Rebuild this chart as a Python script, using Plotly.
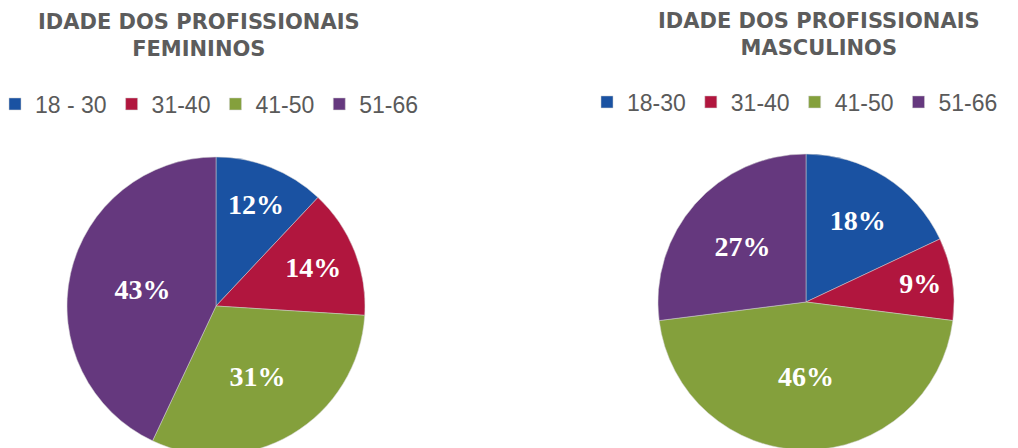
import plotly.graph_objects as go

# ---- data ----
labels_fem = ["18 - 30", "31-40", "41-50", "51-66"]
values_fem = [12, 14, 31, 43]
labels_masc = ["18-30", "31-40", "41-50", "51-66"]
values_masc = [18, 9, 46, 27]
title_fem = "IDADE DOS PROFISSIONAIS<br>FEMININOS"
title_masc = "IDADE DOS PROFISSIONAIS<br>MASCULINOS"

colors = ["#1a52a2", "#b1163e", "#84a03c", "#65387e"]

W, H = 1018, 456

# pie legend entries are keyed by label; a zero-width space keeps the second
# chart's entries distinct so each chart gets its own legend
masc_keys = [lab + "\u200b" for lab in labels_masc]

fig = go.Figure()

common = dict(
    sort=False,
    direction="clockwise",
    rotation=0,
    texttemplate="%{percent:.0%}",
    textposition="inside",
    insidetextorientation="horizontal",
    textfont=dict(family="Liberation Serif", size=28, color="white", weight="bold"),
    marker=dict(colors=colors, line=dict(color="rgba(210,210,210,0.5)", width=1)),
    hoverinfo="label+percent",
)

fig.add_trace(go.Pie(
    labels=labels_fem, values=values_fem,
    domain=dict(x=[67 / W, 365 / W], y=[1 - 455 / H, 1 - 157 / H]),
    legend="legend",
    **common,
))
fig.add_trace(go.Pie(
    labels=masc_keys, values=values_masc,
    domain=dict(x=[658 / W, 954 / W], y=[1 - 450 / H, 1 - 154 / H]),
    legend="legend2",
    **common,
))

legend_font = dict(family="Liberation Sans", size=23, color="#5a5a5a")

fig.update_layout(
    width=W, height=H,
    margin=dict(l=0, r=0, t=0, b=0, autoexpand=False),
    paper_bgcolor="white",
    plot_bgcolor="white",
    legend=dict(orientation="h", x=-5 / W, xanchor="left", y=1 - 104 / H, yanchor="middle",
                font=legend_font, bgcolor="rgba(0,0,0,0)", itemclick=False),
    legend2=dict(orientation="h", x=587 / W, xanchor="left", y=1 - 102 / H, yanchor="middle",
                 font=legend_font, bgcolor="rgba(0,0,0,0)", itemclick=False),
    annotations=[
        dict(text=title_fem, x=198.5 / W, y=1 - 35.5 / H, xref="paper", yref="paper",
             xanchor="center", yanchor="middle", showarrow=False,
             font=dict(family="DejaVu Sans", size=21, color="#5c5c5c", weight="bold")),
        dict(text=title_masc, x=819 / W, y=1 - 34 / H, xref="paper", yref="paper",
             xanchor="center", yanchor="middle", showarrow=False,
             font=dict(family="DejaVu Sans", size=21, color="#5c5c5c", weight="bold")),
    ],
)

fig.write_html(
    "out.html",
    config={"displayModeBar": False},
    post_script="document.body.style.margin='0';document.body.style.overflow='hidden';",
)
